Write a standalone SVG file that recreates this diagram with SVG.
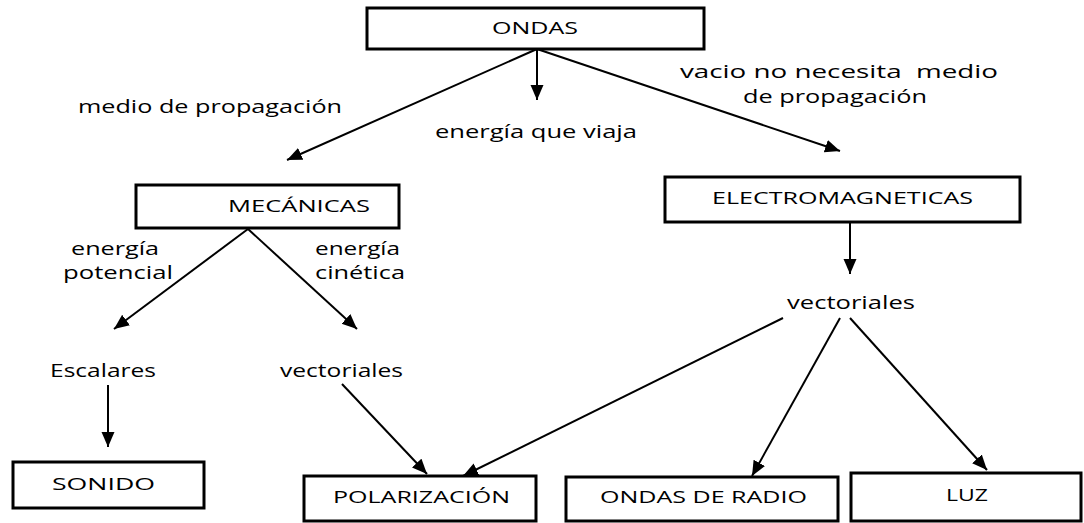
<svg xmlns="http://www.w3.org/2000/svg" width="1084" height="523" viewBox="0 0 1084 523">
<style>
.box{fill:#fff;stroke:#000;stroke-width:3}
.bt{font-family:"Open Sans","Liberation Sans",sans-serif;font-size:17px;fill:#000}
.lb{font-family:"Open Sans","Liberation Sans",sans-serif;font-size:19px;fill:#000}
.c{stroke:#000;stroke-width:2;fill:none;marker-end:url(#ah)}
</style>
<defs>
<marker id="ah" markerUnits="userSpaceOnUse" markerWidth="16" markerHeight="14" refX="15" refY="6.5" orient="auto">
<path d="M0,0 L15,6.5 L0,13 z" fill="#000"/>
</marker>
</defs>
<rect width="1084" height="523" fill="#fff"/>
<g id="connectors">
<line class="c" x1="537" y1="49" x2="537" y2="100"/>
<line class="c" x1="537" y1="49" x2="287" y2="160"/>
<line class="c" x1="537" y1="49" x2="840" y2="151"/>
<line class="c" x1="248" y1="229" x2="114" y2="329"/>
<line class="c" x1="248" y1="229" x2="357" y2="329"/>
<line class="c" x1="108" y1="385" x2="108" y2="447"/>
<line class="c" x1="342" y1="384" x2="427" y2="474"/>
<line class="c" x1="783" y1="318" x2="463" y2="476"/>
<line class="c" x1="840" y1="318" x2="752" y2="476"/>
<line class="c" x1="850" y1="318" x2="987" y2="470"/>
<line class="c" x1="850" y1="222" x2="850" y2="274"/>
</g>
<g id="labels">
<text class="lb" x="78" y="113" textLength="264" lengthAdjust="spacingAndGlyphs">medio de propagación</text>
<text class="lb" x="435" y="138" textLength="202" lengthAdjust="spacingAndGlyphs">energía que viaja</text>
<text class="lb" x="680" y="78" textLength="318" lengthAdjust="spacingAndGlyphs" style="white-space:pre">vacio no necesita  medio</text>
<text class="lb" x="743" y="103" textLength="184" lengthAdjust="spacingAndGlyphs">de propagación</text>
<text class="lb" x="71" y="255" textLength="88" lengthAdjust="spacingAndGlyphs">energía</text>
<text class="lb" x="63" y="279" textLength="110" lengthAdjust="spacingAndGlyphs">potencial</text>
<text class="lb" x="315" y="255" textLength="85" lengthAdjust="spacingAndGlyphs">energía</text>
<text class="lb" x="315" y="279" textLength="90" lengthAdjust="spacingAndGlyphs">cinética</text>
</g>
<g id="escalares"><text class="lb" x="50" y="377" textLength="106" lengthAdjust="spacingAndGlyphs">Escalares</text></g>
<g id="vectoriales-mec"><text class="lb" x="280" y="377" textLength="123" lengthAdjust="spacingAndGlyphs">vectoriales</text></g>
<g id="vectoriales-em"><text class="lb" x="787" y="309" textLength="128" lengthAdjust="spacingAndGlyphs">vectoriales</text></g>
<g id="ondas"><rect class="box" x="367" y="8" width="337" height="41"/><text class="bt" x="492" y="34" textLength="86" lengthAdjust="spacingAndGlyphs">ONDAS</text></g>
<g id="mecanicas"><rect class="box" x="136" y="185" width="263" height="43"/><text class="bt" x="228" y="212" textLength="142" lengthAdjust="spacingAndGlyphs">MECÁNICAS</text></g>
<g id="electromagneticas"><rect class="box" x="665" y="177" width="355" height="45"/><text class="bt" x="712" y="204" textLength="261" lengthAdjust="spacingAndGlyphs">ELECTROMAGNETICAS</text></g>
<g id="sonido"><rect class="box" x="13" y="462" width="191" height="46"/><text class="bt" x="52" y="490" textLength="103" lengthAdjust="spacingAndGlyphs">SONIDO</text></g>
<g id="polarizacion"><rect class="box" x="304" y="476" width="232" height="45"/><text class="bt" x="333" y="503" textLength="177" lengthAdjust="spacingAndGlyphs">POLARIZACIÓN</text></g>
<g id="ondas-de-radio"><rect class="box" x="566" y="477" width="272" height="44"/><text class="bt" x="600" y="503" textLength="207" lengthAdjust="spacingAndGlyphs">ONDAS DE RADIO</text></g>
<g id="luz"><rect class="box" x="851" y="473" width="230" height="48"/><text class="bt" x="946" y="501" textLength="42" lengthAdjust="spacingAndGlyphs">LUZ</text></g>
</svg>
